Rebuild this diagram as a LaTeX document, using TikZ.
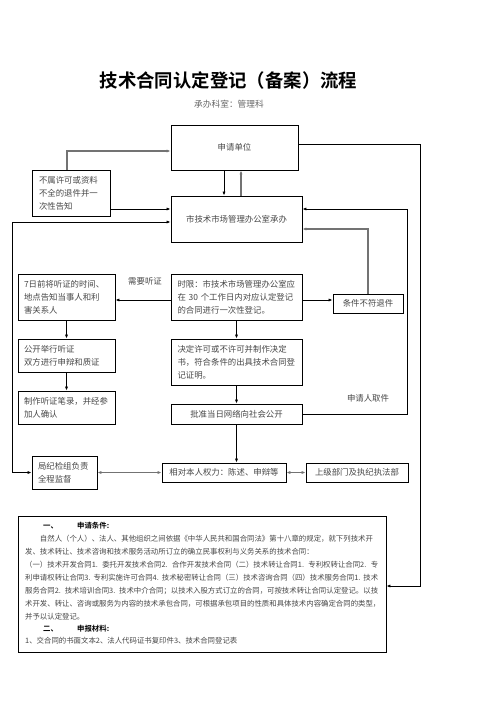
\documentclass[tikz,border=0pt]{standalone}
\usepackage{fontspec}
\setmainfont{Noto Sans CJK SC}[BoldFont={Noto Sans CJK SC Bold}]
\usetikzlibrary{arrows.meta}
\XeTeXlinebreaklocale "zh"
\XeTeXlinebreakskip=0pt plus 1pt

\newcommand{\boxfont}{\fontsize{8.4pt}{13pt}\selectfont}
\newcommand{\notefont}{\fontsize{7.4pt}{13pt}\selectfont}
\newcommand{\fillline}[2]{\makebox[#1][s]{#2}}

\tikzset{
  flowbox/.style={draw, line width=0.9pt, inner sep=0pt, font=\boxfont, text=black!72},
  link/.style={line width=0.8pt},
  greylink/.style={line width=1.4pt, draw=black!55},
  noteline/.style={inner sep=0pt, anchor=west, font=\notefont, text=black!72},
}

\begin{document}
\begin{tikzpicture}[x=1pt, y=-1pt, >={Latex[length=4pt,width=3.2pt]}]
    \fill[white] (0,0) rectangle (496,702);
    \useasboundingbox (0,0) rectangle (496,702);

    \node[font=\fontsize{18.4pt}{20pt}\selectfont\bfseries] (title) at (228.5,81) {技术合同认定登记（备案）流程};
    \node[font=\fontsize{8.7pt}{10pt}\selectfont, text=black!60] (dept) at (229,104) {承办科室：管理科};

    % flow boxes
    \node[flowbox, minimum width=127pt, minimum height=45pt] (apply) at (234.5,147.5) {申请单位};
    \node[flowbox, minimum width=78pt, minimum height=46pt, text width=64pt, align=left] (reject) at (71,193)
        {\fillline{64pt}{不属许可或资料}\\ \fillline{64pt}{不全的退件并一}\\ 次性告知};
    \node[flowbox, minimum width=131pt, minimum height=46pt] (office) at (236.5,219) {市技术市场管理办公室承办};
    \node[flowbox, minimum width=97pt, minimum height=46pt, text width=85pt, align=left] (notify) at (66.5,297)
        {\fillline{85pt}{7日前将听证的时间、}\\ \fillline{85pt}{地点告知当事人和利}\\ 害关系人};
    \node[flowbox, minimum width=131pt, minimum height=46pt, text width=118pt, align=left] (limit) at (236.5,297)
        {\fillline{118pt}{时限：市技术市场管理办公室应}\\ \fillline{118pt}{在 30 个工作日内对应认定登记}\\ 的合同进行一次性登记。};
    \node[flowbox, minimum width=70pt, minimum height=19pt] (unfit) at (368,303.5) {条件不符退件};
    \node[flowbox, minimum width=97pt, minimum height=33pt, text width=85pt, align=left] (hearing) at (66.5,355.5)
        {公开举行听证\\ 双方进行申辩和质证};
    \node[flowbox, minimum width=131pt, minimum height=46pt, text width=118pt, align=left] (decide) at (236.5,362)
        {\fillline{118pt}{决定许可或不许可并制作决定}\\ \fillline{118pt}{书，符合条件的出具技术合同登}\\ 记证明。};
    \node[flowbox, minimum width=97pt, minimum height=33pt, text width=85pt, align=left] (record) at (66.5,407.5)
        {制作听证笔录，并经参\\ 加人确认};
    \node[flowbox, minimum width=131pt, minimum height=20pt] (publish) at (236.5,414) {批准当日网络向社会公开};
    \node[flowbox, minimum width=65pt, minimum height=33pt, text width=53pt, align=left] (supervise) at (64.5,472.5)
        {局纪检组负责\\ 全程监督};
    \node[flowbox, minimum width=124pt, minimum height=19pt] (rights) at (224,472.5) {相对本人权力：陈述、申辩等};
    \node[flowbox, minimum width=102pt, minimum height=19pt] (upper) at (357,472.5) {上级部门及执纪执法部};
    \node[draw, line width=0.9pt, minimum width=368pt, minimum height=136pt, inner sep=0pt] (terms) at (202,584) {};

    \node[font=\boxfont, text=black!72] (needhear) at (145,281) {需要听证};
    \node[font=\boxfont, text=black!72] (pickup) at (368,398) {申请人取件};

    % connectors
    \draw[greylink,->] ([xshift=-4pt]reject.north) |- ([yshift=-3.5pt]apply.west);
    \draw[link,->] ([xshift=-10.5pt]apply.south) -- ([xshift=-10.5pt]apply.south |- office.north);
    \draw[greylink,->] ([xshift=6.5pt]apply.south |- office.north) -- ([xshift=6.5pt]apply.south);
    \draw[link,->] ([yshift=-16pt]reject.east) -- ([yshift=-16pt]reject.east -| office.west);
    \draw[link,<->] (supervise.west) -- ++(-19,0) |- ([yshift=-3pt]office.west);
    \draw[link,->] (publish.east) -- ++(105,0) |- ([yshift=10pt]office.east);
    \draw[greylink,->] (unfit.north) |- ([yshift=-10pt]office.east);
    \draw[link,->] ([yshift=3.5pt]apply.east) -- ++(122,0) |- ([yshift=-2pt]terms.east);
    \draw[link,->] ([yshift=-3pt]limit.west) -- ([yshift=-3pt]limit.west -| notify.east);
    \draw[link,->] ([yshift=-3pt]limit.east) -- ([yshift=-3pt]limit.east -| unfit.west);
    \draw[link,->] (notify) -- (hearing);
    \draw[link,->] (hearing) -- (record);
    \draw[link,->] (limit) -- (decide);
    \draw[link,->] (decide) -- (publish);
    \draw[link,->] (publish.south) -- (publish.south |- rights.north);
    \draw[greylink,<->] (supervise.east) -- (rights.west);
    \draw[greylink,<->] (rights.east) -- (upper.west);

    % conditions and materials
    \node[noteline, text=black] (head1) at (43,526) {\bfseries\makebox[34pt][l]{一、}申请条件:};
    \node[noteline] (line1) at (25,539) {\fillline{353pt}{　　自然人（个人）、法人、其他组织之间依据《中华人民共和国合同法》第十八章的规定，就下列技术开}};
    \node[noteline] (line2) at (25,552) {发、技术转让、技术咨询和技术服务活动所订立的确立民事权利与义务关系的技术合同：};
    \node[noteline] (line3) at (25,565) {\fillline{353pt}{（一）技术开发合同1. 委托开发技术合同2. 合作开发技术合同（二）技术转让合同1. 专利权转让合同2. 专}};
    \node[noteline] (line4) at (25,578) {\fillline{353pt}{利申请权转让合同3. 专利实施许可合同4. 技术秘密转让合同（三）技术咨询合同（四）技术服务合同1. 技术}};
    \node[noteline] (line5) at (25,591) {\fillline{353pt}{服务合同2. 技术培训合同3. 技术中介合同；以技术入股方式订立的合同，可按技术转让合同认定登记。以技}};
    \node[noteline] (line6) at (25,604) {\fillline{353pt}{术开发、转让、咨询或服务为内容的技术承包合同，可根据承包项目的性质和具体技术内容确定合同的类型，}};
    \node[noteline] (line7) at (25,617) {并予以认定登记。};
    \node[noteline, text=black] (head2) at (43,629) {\bfseries\makebox[34pt][l]{二、}申报材料:};
    \node[noteline] (line8) at (25,641) {1、交合同的书面文本2、法人代码证书复印件3、技术合同登记表};
\end{tikzpicture}
\end{document}
